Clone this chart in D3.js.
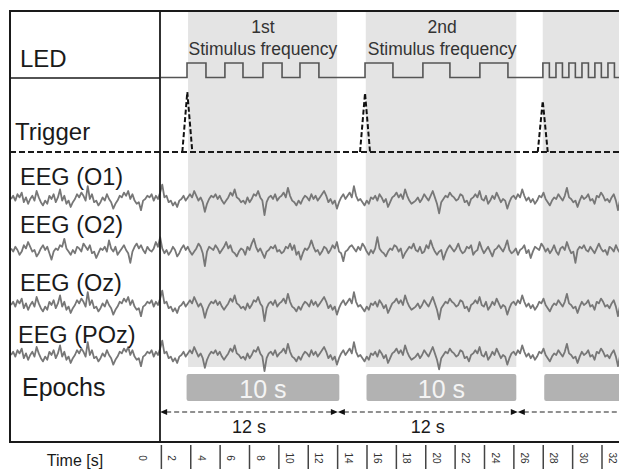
<!DOCTYPE html>
<html>
<head>
<meta charset="utf-8">
<script src="https://cdn.jsdelivr.net/npm/d3@7"></script>
<style>
  body { margin: 0; background: #fff; }
  text { font-family: "Liberation Sans", Arial, sans-serif; }
</style>
</head>
<body>
<script>
// ---- data (times in seconds) ----
var tickValues = [0, 2, 4, 6, 8, 10, 12, 14, 16, 18, 20, 22, 24, 26, 28, 30, 32];
var shadeStart = [3.85, 15.95, 28.0];
var shadeEnd   = [14.0, 26.2, 34.0];
var epochStart = [3.75, 16.0, 28.1];
var epochEnd   = [14.15, 26.2, 34.0];
var epochLabel = ["10 s", "10 s", ""];
var arrowMarks = [1.95, 14.05, 26.3, 34.0];
var arrowLabel = ["12 s", "12 s", ""];
var stimNames  = ["1st", "2nd"];
var stimCenter = [8.95, 21.15];
var ledOn  = [3.78, 6.36, 8.95, 11.47, 15.9, 19.84, 23.72, 28.01, 28.9, 29.78, 30.67, 31.55, 32.44];
var ledOff = [5.07, 7.59, 10.25, 12.76, 17.8, 21.68, 25.63, 28.45, 29.34, 30.22, 31.11, 31.99, 32.88];
var trigTime = [3.8, 15.9, 28.0];
var trigPeak = [1.0, 0.98, 0.85];
var channels = ["EEG (O1)", "EEG (O2)", "EEG (Oz)", "EEG (POz)"];
var channelSignal = [0, 1, 0, 0];

// EEG samples, 0.145 s apart starting at -8.2 s
var eegStart = -8.2, eegStep = 0.145;
var eegA = [
  0,2,-1,3,1,4,-2,1,-3,0,2,-1,5,1,-2,-4,
  -1,-3,2,0,3,-2,1,6,-1,2,-3,-1,-5,-2,0,3,
  1,4,2,-1,8,0,3,-2,-1,-4,-2,1,-1,3,0,-2,
  -6,-3,-1,2,1,4,2,5,0,3,-1,-3,-2,-7,-1,0,
  2,1,3,-1,2,0,4,9,1,2,-2,-1,-4,-2,-5,-1,
  0,2,-1,1,3,1,5,2,-1,1,-2,-8,-3,0,2,1,
  3,0,2,-1,-3,-1,1,4,2,6,1,0,-2,-1,-3,1,
  -2,0,3,2,5,1,-1,-10,-2,1,2,0,3,-1,1,2,
  4,1,7,2,-1,-2,-4,-1,-3,0,2,1,-1,3,0,2,
  -1,1,3,5,2,-2,0,-3,-1,-6,-2,1,3,0,2,4,
  1,8,2,-1,0,-2,-4,-1,-3,1,0,2,-1,3,1,-2,
  0,-5,-2,1,2,4,1,3,0,6,2,-1,-3,-2,-1,1,
  -2,0,3,1,-1,2,5,1,-3,-9,-2,0,2,1,4,2,
  1,-1,0,3,2,-2,-1,-4,0,1,3,1,5,0,-1,2,
  -3,-1,2,0,4,1,-2,0,-1,-6,-2,1,2,0,3,1,
  6,2,-1,1,-2,0,-3,-1,2,1,4,0,-2,-4,-1,1,
  0,3,1,-1,2,7,1,0,-2,-1,-5,-1,2,0,1,3,
  -1,0,-3,2,1,4,2,-1,0,-2,1,3,-1,-7,0,2
];
var eegB = [
  1,-1,2,0,-3,-1,3,1,5,2,-1,0,-4,-2,1,3,
  0,2,-2,-6,-1,1,0,3,2,7,1,-1,-3,0,-2,2,
  1,-1,4,2,0,3,-2,-1,-5,-2,1,0,2,-1,6,1,
  -1,2,-3,-1,1,3,0,-2,-8,-1,2,4,1,3,0,-2,
  2,0,-1,1,5,2,8,1,-2,0,-3,-1,2,0,-4,-2,
  1,3,0,2,-1,-3,-1,1,4,2,-2,-10,-1,2,1,0,
  3,1,-2,0,2,5,1,3,-1,-2,-4,-1,1,0,-3,2,
  0,4,7,2,-1,1,-2,-5,-1,0,2,1,3,-1,0,-2,
  -1,2,1,4,0,3,-3,-1,-6,-2,1,0,2,6,2,-1,
  0,-3,-1,2,1,-2,0,3,1,5,-1,-2,-7,-1,0,2,
  3,1,-1,2,0,4,2,-1,-3,0,-2,1,8,1,-1,-2,
  -4,-1,1,0,3,2,-1,1,-5,-2,0,2,1,4,0,-1,
  2,-2,-1,3,1,6,2,-1,-3,-1,0,-6,-2,1,3,1,
  -1,1,4,0,-2,-1,2,1,3,-3,-1,0,5,1,-2,0,
  2,-1,-4,0,1,3,1,-1,2,6,0,-2,-1,1,-3,0,
  1,3,-2,0,-5,-1,2,1,0,4,2,-1,1,-2,0,3,
  -1,-3,1,2,0,5,1,-2,-1,-8,0,2,1,3,0,-1,
  2,0,-2,1,4,1,-1,0,-3,2,1,-1,3,0,-2,1
];
var signals = [eegA, eegB];

// ---- layout ----
var W = 619, H = 471;
var frameLeft = 10, frameTop = 11, divX = 160, frameBottom = 442;
var ledRowY = 78, trigRowY = 152;
var traceCenter = [199, 250, 305, 355];
var labelBase = [185, 233, 291, 343];

var svg = d3.select("body").append("svg")
  .attr("width", W).attr("height", H);

var x = d3.scaleLinear().domain([0, 32]).range([131.5, 601.5]);

svg.append("clipPath").attr("id", "clip")
  .append("rect").attr("x", frameLeft).attr("y", 0).attr("width", W - frameLeft).attr("height", H);

// shaded stimulus periods
svg.append("g").selectAll("rect")
  .data(shadeStart)
  .enter().append("rect")
    .attr("x", function (d) { return x(d); })
    .attr("y", frameTop + 1)
    .attr("width", function (d, i) { return x(shadeEnd[i]) - x(d); })
    .attr("height", 367 - frameTop - 1)
    .style("fill", "#e4e4e4");

// stimulus labels
stimNames.forEach(function (s, i) {
  var g = svg.append("g").style("fill", "#333").style("font-size", "17.5px")
    .attr("text-anchor", "middle");
  g.append("text").attr("x", x(stimCenter[i])).attr("y", 33).text(s);
  g.append("text").attr("x", x(stimCenter[i])).attr("y", 55).text("Stimulus frequency");
});

// LED square wave
var yLed = d3.scaleLinear().domain([0, 1]).range([77.5, 63]);
var ledPts = [[2, 0]];
ledOn.forEach(function (t, i) { ledPts.push([t, 1]); ledPts.push([ledOff[i], 0]); });
ledPts.push([34, 0]);
svg.append("path")
  .datum(ledPts)
  .attr("d", d3.line().curve(d3.curveStepAfter)
    .x(function (d) { return x(d[0]); })
    .y(function (d) { return yLed(d[1]); }))
  .style("fill", "none").style("stroke", "#555").style("stroke-width", 1.6);

// trigger spikes
var yTrig = d3.scaleLinear().domain([0, 1]).range([trigRowY, 92]);
svg.append("g").selectAll("path")
  .data(trigTime)
  .enter().append("path")
    .attr("d", function (d, i) {
      return "M" + (x(d) - 5) + "," + yTrig(0) + "L" + x(d) + "," + yTrig(trigPeak[i]) +
             "L" + (x(d) + 5) + "," + yTrig(0);
    })
    .style("fill", "none").style("stroke", "#111").style("stroke-width", 2)
    .style("stroke-dasharray", "5,2.5");

// EEG traces
channels.forEach(function (c, k) {
  var sig = signals[channelSignal[k]];
  var yS = d3.scaleLinear().domain([-10, 10]).range([traceCenter[k] + 16, traceCenter[k] - 16]);
  svg.append("path")
    .datum(sig)
    .attr("clip-path", "url(#clip)")
    .attr("d", d3.line()
      .x(function (d, i) { return x(eegStart + i * eegStep); })
      .y(function (d) { return yS(d); }))
    .style("fill", "none").style("stroke", "#777").style("stroke-width", 1.8)
    .style("stroke-linejoin", "round");
});

// epoch bars
var ep = svg.append("g").selectAll("g").data(epochStart).enter().append("g");
ep.append("rect")
  .attr("x", function (d) { return x(d); })
  .attr("y", 374)
  .attr("width", function (d, i) { return x(epochEnd[i]) - x(d); })
  .attr("height", 27)
  .attr("rx", 2)
  .style("fill", "#b2b2b2");
ep.append("text")
  .attr("x", function (d, i) { return (x(d) + x(epochEnd[i])) / 2; })
  .attr("y", 398)
  .attr("text-anchor", "middle")
  .style("font-size", "25px").style("fill", "#f4f4f4")
  .text(function (d, i) { return epochLabel[i]; });

// 12 s arrows
var arr = svg.append("g");
for (var i = 0; i < arrowMarks.length - 1; i++) {
  var a = x(arrowMarks[i]), b = x(arrowMarks[i + 1]);
  arr.append("line")
    .attr("x1", a + 6).attr("x2", b - 6).attr("y1", 412).attr("y2", 412)
    .style("stroke", "#222").style("stroke-width", 1.2).style("stroke-dasharray", "5,3");
  arr.append("path")
    .attr("d", "M" + a + ",412L" + (a + 7) + ",409L" + (a + 7) + ",415Z")
    .style("fill", "#111");
  if (arrowLabel[i]) {
    arr.append("path")
      .attr("d", "M" + b + ",412L" + (b - 7) + ",409L" + (b - 7) + ",415Z")
      .style("fill", "#111");
    arr.append("text")
      .attr("x", (a + b) / 2)
      .attr("y", 433)
      .attr("text-anchor", "middle")
      .style("font-size", "18px").style("fill", "#1a1a1a")
      .text(arrowLabel[i]);
  }
}

// frame lines
var frame = svg.append("g").style("stroke", "#1a1a1a");
frame.append("line").attr("x1", frameLeft - 1).attr("x2", W).attr("y1", frameTop).attr("y2", frameTop).style("stroke-width", 2);
frame.append("line").attr("x1", frameLeft).attr("x2", frameLeft).attr("y1", frameTop).attr("y2", frameBottom).style("stroke-width", 2);
frame.append("line").attr("x1", divX).attr("x2", divX).attr("y1", frameTop).attr("y2", frameBottom).style("stroke-width", 1.8);
frame.append("line").attr("x1", frameLeft - 1).attr("x2", W).attr("y1", frameBottom).attr("y2", frameBottom).style("stroke-width", 2);
frame.append("line").attr("x1", frameLeft).attr("x2", divX).attr("y1", ledRowY).attr("y2", ledRowY).style("stroke-width", 1.5);
frame.append("line").attr("x1", frameLeft).attr("x2", W).attr("y1", trigRowY).attr("y2", trigRowY)
  .style("stroke-width", 2).style("stroke-dasharray", "6,3");

// row labels
var lab = svg.append("g").style("fill", "#1a1a1a");
lab.append("text").attr("x", 20).attr("y", 67).style("font-size", "24px").text("LED");
lab.append("text").attr("x", 15).attr("y", 140).style("font-size", "24px").text("Trigger");
channels.forEach(function (c, k) {
  lab.append("text").attr("x", k === 3 ? 18 : 20).attr("y", labelBase[k])
    .style("font-size", "23.5px").text(c);
});
lab.append("text").attr("x", 22).attr("y", 396).style("font-size", "25px").text("Epochs");

// time axis
var axis = svg.append("g")
  .attr("transform", "translate(0,445)")
  .call(d3.axisBottom(x).tickValues(tickValues).tickSize(24));
axis.select(".domain").remove();
axis.selectAll(".tick line")
  .style("stroke", "#444").style("stroke-width", 1.5)
  .style("display", function (d) { return d === 0 ? "none" : null; });
axis.selectAll(".tick text")
  .attr("x", 0).attr("y", 0).attr("dy", "0.35em")
  .attr("transform", "translate(10.5,13) rotate(90)")
  .attr("text-anchor", "middle")
  .style("font-size", "10px").style("fill", "#333");
svg.append("text").attr("x", 75).attr("y", 466).attr("text-anchor", "middle")
  .style("font-size", "16px").style("fill", "#1a1a1a").text("Time [s]");
</script>
</body>
</html>
